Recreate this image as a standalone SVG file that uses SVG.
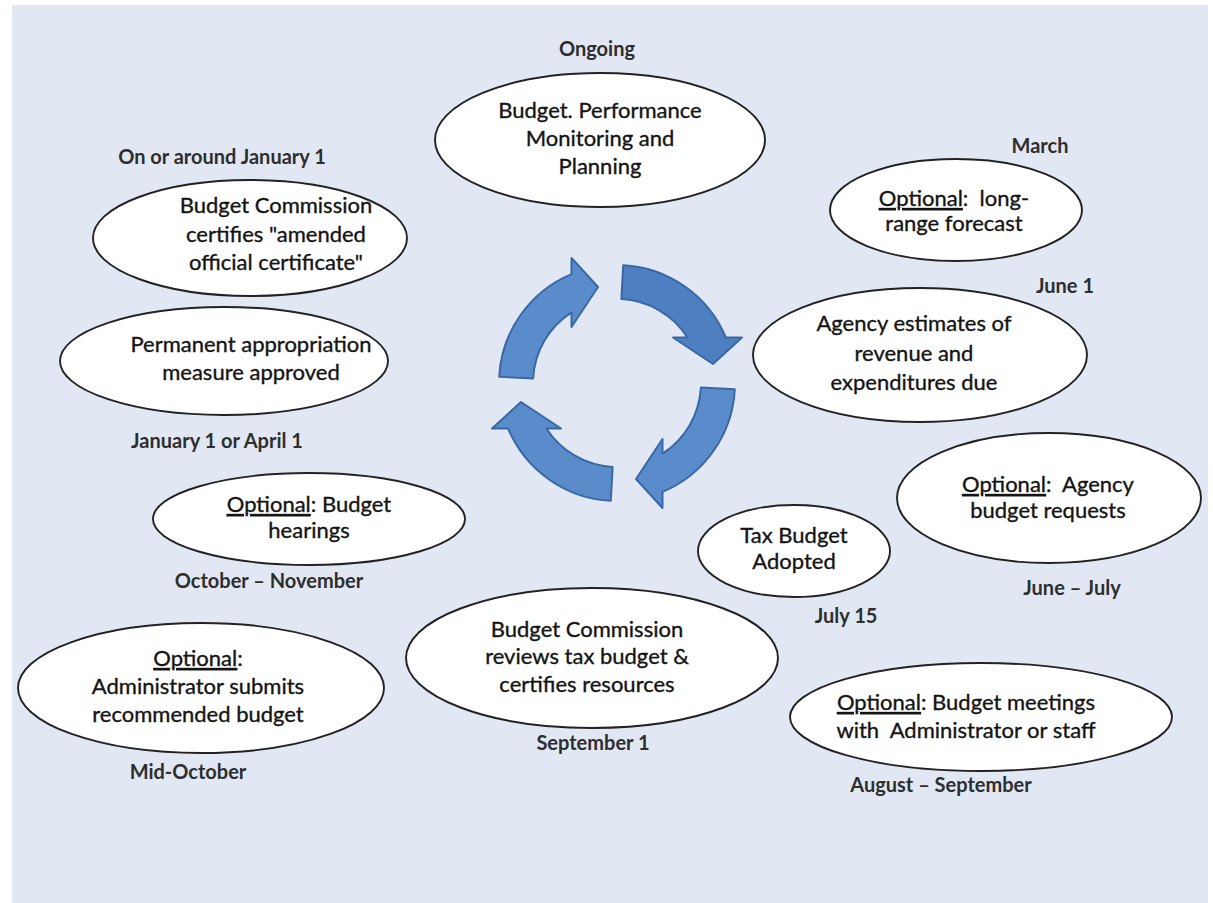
<svg xmlns="http://www.w3.org/2000/svg" width="1213" height="903" viewBox="0 0 1213 903">
<style>
.node{fill:#ffffff;stroke:#222222;stroke-width:1.9}
.t{font-family:Lato,"Open Sans","Liberation Sans",sans-serif;font-size:22px;fill:#141414;stroke:#141414;stroke-width:0.35;text-anchor:middle}
.lbl{font-family:Lato,"Open Sans","Liberation Sans",sans-serif;font-size:20px;font-weight:bold;fill:#2e2e2e;text-anchor:middle}
.u{text-decoration:underline}
.arr{fill:#5a8ccc;stroke:#3a68a6;stroke-width:2;stroke-linejoin:round}
.pre{white-space:pre}
</style>
<defs>
<path id="cyc" d="M 499.2 376.8 A 118 118 0 0 1 571.5 274.1 L 571.5 258 L 598 287 L 571.5 327 L 571.5 312.4 A 84 84 0 0 0 533.1 378.6 Z"/>
</defs>
<rect x="0" y="0" width="1213" height="903" fill="#ffffff"/>
<rect x="12" y="5" width="1196" height="898" fill="#e1e8f3"/>

<g id="connectors">
<use href="#cyc" class="arr"/>
<use href="#cyc" class="arr" style="fill:#4e7fc0" transform="rotate(90 617 383)"/>
<use href="#cyc" class="arr" transform="rotate(180 617 383)"/>
<use href="#cyc" class="arr" transform="rotate(270 617 383)"/>
</g>

<g id="node-ongoing">
<ellipse class="node" cx="600" cy="140" rx="165" ry="67"/>
<text class="t" x="600" y="118">Budget. Performance</text>
<text class="t" x="600" y="146">Monitoring and</text>
<text class="t" x="600" y="174">Planning</text>
<text class="lbl" x="597" y="56">Ongoing</text>
</g>

<g id="node-amended">
<ellipse class="node" cx="250" cy="238" rx="157" ry="58"/>
<text class="t" x="276" y="213">Budget Commission</text>
<text class="t" x="276" y="242">certifies "amended</text>
<text class="t" x="276" y="270">official certificate"</text>
<text class="lbl" x="222" y="164">On or around January 1</text>
</g>

<g id="node-permanent">
<ellipse class="node" cx="224" cy="361" rx="164" ry="54"/>
<text class="t" x="251" y="352">Permanent appropriation</text>
<text class="t" x="251" y="380">measure approved</text>
<text class="lbl" x="217" y="448">January 1 or April 1</text>
</g>

<g id="node-hearings">
<ellipse class="node" cx="309" cy="519" rx="156" ry="46"/>
<text class="t" x="309" y="512"><tspan class="u">Optional</tspan>: Budget</text>
<text class="t" x="309" y="538">hearings</text>
<text class="lbl" x="269" y="588">October – November</text>
</g>

<g id="node-admin">
<ellipse class="node" cx="201" cy="688" rx="183" ry="65"/>
<text class="t" x="198" y="666"><tspan class="u">Optional</tspan>:</text>
<text class="t" x="198" y="694">Administrator submits</text>
<text class="t" x="198" y="722">recommended budget</text>
<text class="lbl" x="188" y="779">Mid-October</text>
</g>

<g id="node-reviews">
<ellipse class="node" cx="592" cy="658" rx="186" ry="70"/>
<text class="t" x="587" y="637">Budget Commission</text>
<text class="t" x="587" y="664">reviews tax budget &amp;</text>
<text class="t" x="587" y="692">certifies resources</text>
<text class="lbl" x="593" y="750">September 1</text>
</g>

<g id="node-tax">
<ellipse class="node" cx="794" cy="551" rx="96" ry="46"/>
<text class="t" x="794" y="543">Tax Budget</text>
<text class="t" x="794" y="569">Adopted</text>
<text class="lbl" x="846" y="623">July 15</text>
</g>

<g id="node-agency-requests">
<ellipse class="node" cx="1049" cy="498" rx="152" ry="65"/>
<text class="t pre" x="1048" y="492"><tspan class="u">Optional</tspan>:  Agency</text>
<text class="t" x="1048" y="518">budget requests</text>
<text class="lbl" x="1072" y="595">June – July</text>
</g>

<g id="node-meetings">
<ellipse class="node" cx="981" cy="717" rx="191" ry="54"/>
<text class="t" x="966" y="710"><tspan class="u">Optional</tspan>: Budget meetings</text>
<text class="t pre" x="966" y="738">with  Administrator or staff</text>
<text class="lbl" x="941" y="792">August – September</text>
</g>

<g id="node-estimates">
<ellipse class="node" cx="920" cy="355" rx="167" ry="67"/>
<text class="t" x="914" y="331">Agency estimates of</text>
<text class="t" x="914" y="361">revenue and</text>
<text class="t" x="914" y="390">expenditures due</text>
<text class="lbl" x="1065" y="293">June 1</text>
</g>

<g id="node-forecast">
<ellipse class="node" cx="956" cy="210" rx="126" ry="51"/>
<text class="t pre" x="954" y="206"><tspan class="u">Optional</tspan>:  long-</text>
<text class="t" x="954" y="231">range forecast</text>
<text class="lbl" x="1040" y="153">March</text>
</g>
</svg>
